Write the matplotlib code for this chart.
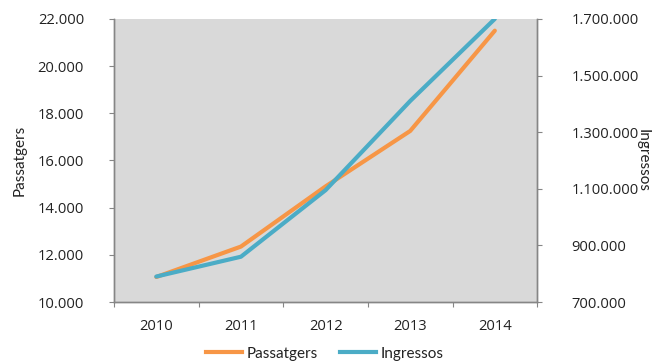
import matplotlib
matplotlib.use("Agg")
import matplotlib.pyplot as plt
from matplotlib.ticker import FuncFormatter, FixedLocator
from matplotlib.lines import Line2D

years = ["2010", "2011", "2012", "2013", "2014"]
passatgers = [11060, 12350, 14900, 17250, 21500]
ingressos = [790000, 860000, 1095000, 1410000, 1700000]

orange = "#F79646"
blue = "#4BACC6"
spine_col = "#868686"
text_col = "#222222"

plt.rcParams["font.family"] = ["Lato", "DejaVu Sans"]
plt.rcParams["font.size"] = 11
num_font = {"family": ["Open Sans", "DejaVu Sans"], "size": 10.6}

def thousands(v, pos):
    return f"{int(round(v)):,}".replace(",", ".")

fig = plt.figure(figsize=(6.56, 3.63), dpi=100)
ax = fig.add_axes([0.1738, 0.168, 0.645, 0.78])
ax2 = ax.twinx()

x = list(range(len(years)))
ax.plot(x, passatgers, color=orange, lw=3.0, solid_capstyle="round", zorder=3)
ax2.plot(x, ingressos, color=blue, lw=3.0, solid_capstyle="round", zorder=3)

ax.set_facecolor("#D9D9D9")
ax.set_xlim(-0.5, len(years) - 0.5)
ax.set_ylim(10000, 22000)
ax2.set_ylim(700000, 1700000)
ax.set_yticks(range(10000, 22001, 2000))
ax2.set_yticks(range(700000, 1700001, 200000))
ax.yaxis.set_major_formatter(FuncFormatter(thousands))
ax2.yaxis.set_major_formatter(FuncFormatter(thousands))

# category labels centred, tick marks on the boundaries
ax.xaxis.set_major_locator(FixedLocator([i - 0.5 for i in range(len(years) + 1)]))
ax.xaxis.set_minor_locator(FixedLocator(x))
ax.set_xticklabels([])
ax.set_xticklabels(years, minor=True)
ax.tick_params(axis="x", which="major", length=3.5, color=spine_col, direction="out")
ax.tick_params(axis="x", which="minor", length=0, pad=12, labelcolor=text_col)
ax.tick_params(axis="y", length=3.6, color=spine_col, direction="out", pad=18, labelcolor=text_col)
ax2.tick_params(axis="y", length=3.6, color=spine_col, direction="out", pad=21, labelcolor=text_col)

for lab in ax.get_yticklabels() + ax2.get_yticklabels() + ax.get_xticklabels(minor=True):
    lab.set_fontfamily(num_font["family"])
    lab.set_fontsize(num_font["size"])

for a in (ax, ax2):
    a.spines["top"].set_visible(False)
    for s in ("left", "right", "bottom"):
        a.spines[s].set_color(spine_col)
        a.spines[s].set_linewidth(1.0)

ax.set_ylabel("Passatgers", color=text_col, labelpad=8)
ax2.set_ylabel("Ingressos", color=text_col, rotation=270, labelpad=8)

handles = [Line2D([], [], color=orange, lw=3), Line2D([], [], color=blue, lw=3)]
fig.legend(handles, ["Passatgers", "Ingressos"], loc="center", bbox_to_anchor=(0.495, 0.026),
           ncol=2, frameon=False, handlelength=2.4, handletextpad=0.3, columnspacing=1.4,
           fontsize=11, labelcolor=text_col)

fig.savefig("out.png", dpi=100)
